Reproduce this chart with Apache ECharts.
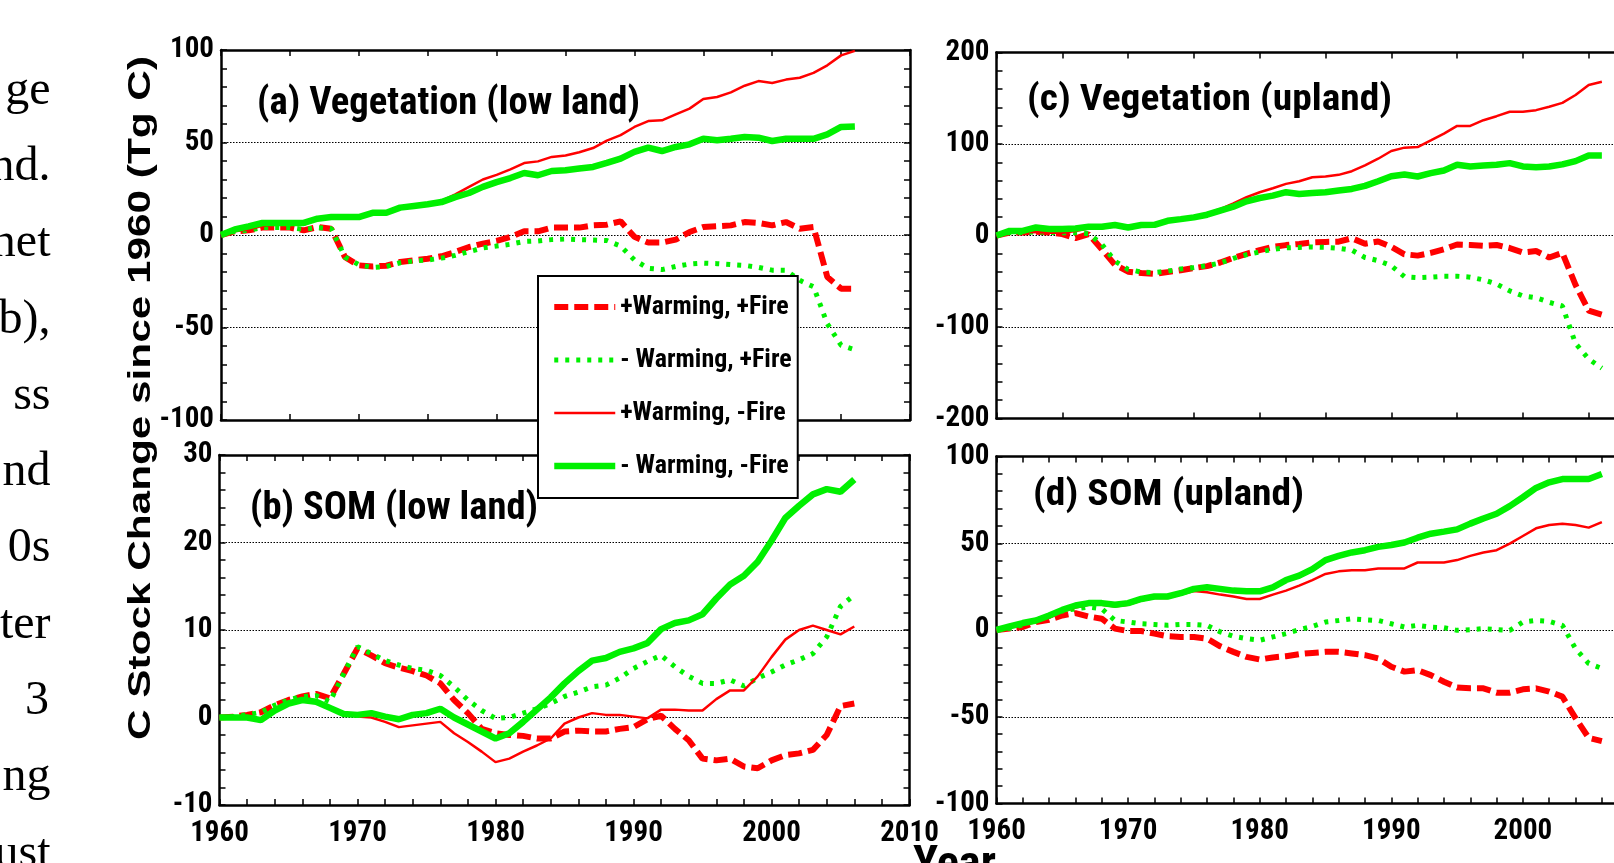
<!DOCTYPE html>
<html>
<head>
<meta charset="utf-8">
<script src="https://cdn.jsdelivr.net/npm/echarts/dist/echarts.min.js"></script>
<style>
html,body{margin:0;padding:0;background:#fff;}
#c{width:1614px;height:863px;}
</style>
</head>
<body>
<div id="c"></div>
<script>
// ---------------- DATA ----------------
const years = [1960,1961,1962,1963,1964,1965,1966,1967,1968,1969,
  1970,1971,1972,1973,1974,1975,1976,1977,1978,1979,
  1980,1981,1982,1983,1984,1985,1986,1987,1988,1989,
  1990,1991,1992,1993,1994,1995,1996,1997,1998,1999,
  2000,2001,2002,2003,2004,2005,2006];

const seriesNames = ['+Warming, +Fire', '- Warming, +Fire', '+Warming, -Fire', '- Warming, -Fire'];

const xTickLabels = [1960, 1970, 1980, 1990, 2000, 2010];
const yTicksA = [-100, -50, 0, 50, 100];
const yTicksB = [-10, 0, 10, 20, 30];
const yTicksC = [-200, -100, 0, 100, 200];
const yTicksD = [-100, -50, 0, 50, 100];

const panelTitles = ['(a) Vegetation (low land)', '(b) SOM (low land)', '(c) Vegetation (upland)', '(d) SOM (upland)'];
const yAxisTitle = 'C Stock Change since 1960 (Tg C)';
const xAxisTitle = 'Year';
const bodyTextLines = ['ge', 'nd.', 'net', 'b),', 'ss', 'nd', '0s', 'ter', '3', 'ng', 'ust'];

// (a) Vegetation lowland
const aWarmFire = [0, 2, 2.5, 4, 4, 4, 2.5, 4.3, 3.4, -12,
  -16.4, -17, -16.6, -14.6, -13.7, -12.8, -11.5, -9.2, -6.5, -4.7,
  -3.2, -1.1, 2, 2, 4, 4, 4, 5.2, 5.6, 7.4,
  -1, -4.1, -4.1, -2.5, 1.6, 4.3, 4.7, 5.2, 7, 6.5,
  5.2, 7, 3.4, 4.3, -22.7, -29, -29];
const aNoWarmFire = [0, 2, 2.5, 4, 4, 4, 3, 4, 3.5, -12,
  -16, -17.5, -17, -15, -14, -13.5, -12.5, -11, -9, -7,
  -6, -5, -3.5, -3.2, -2.5, -2.2, -2.5, -2.7, -3, -6,
  -13.5, -18, -18.7, -17, -15.7, -15.2, -15.5, -16, -16.4, -17.5,
  -19, -19.1, -24.5, -28, -48, -59.6, -62];
const aWarmNoFire = [0, 2, 3, 5, 5.5, 5.5, 5.5, 8.5, 9.5, 9.5,
  9.5, 11.8, 11.8, 14.6, 15.5, 16.8, 18.4, 22, 26, 30,
  32.5, 35.5, 38.9, 39.8, 42.2, 43, 44.7, 47, 51, 54,
  58.4, 61.6, 62, 65.2, 68.3, 73.5, 74.6, 77.1, 80.7, 83.2,
  82.2, 84, 85, 87.6, 91.7, 97.1, 99.5];
const aNoWarmNoFire = [0, 3, 4.7, 6.5, 6.5, 6.5, 6.5, 8.8, 9.7, 9.7,
  9.7, 12, 12, 14.8, 15.7, 16.6, 17.8, 20.5, 22.7, 26,
  28.6, 30.8, 33.5, 32.3, 34.6, 35, 35.9, 36.8, 39, 41.3,
  44.9, 47.2, 45.4, 47.6, 49, 52, 51.2, 52, 53, 52.6,
  50.8, 52, 52, 52, 54.4, 58.4, 58.7];

// (b) SOM lowland
const bWarmFire = [0, 0.1, 0.3, 0.6, 1.4, 2.0, 2.4, 2.7, 2.2, 5.0,
  7.9, 7.1, 6.2, 5.7, 5.3, 4.8, 3.9, 2.0, 0.5, -1.3,
  -1.8, -2.0, -2.1, -2.4, -2.4, -1.6, -1.5, -1.6, -1.6, -1.3,
  -1.1, -0.2, 0.2, -1.3, -2.6, -4.7, -4.9, -4.7, -5.6, -5.8,
  -4.9, -4.3, -4.1, -3.7, -2.0, 1.3, 1.6];
const bNoWarmFire = [0, 0.1, 0.3, 0.6, 1.4, 2.0, 2.4, 2.5, 1.8, 5.0,
  8.1, 7.3, 6.5, 6.0, 5.6, 5.4, 4.8, 3.5, 2.0, 0.8,
  -0.1, 0, 0.5, 1.0, 1.6, 2.4, 2.9, 3.5, 3.7, 4.5,
  5.6, 6.4, 7.1, 5.8, 4.7, 3.9, 3.9, 4.3, 3.6, 4.5,
  5.2, 6.0, 6.6, 7.3, 9.2, 12.7, 14.0];
const bWarmNoFire = [0, 0, 0, -0.3, 0.8, 1.6, 2.0, 1.8, 1.1, 0.4,
  0.1, 0, -0.5, -1.1, -0.9, -0.7, -0.5, -1.8, -2.8, -3.9,
  -5.1, -4.7, -3.9, -3.2, -2.4, -0.7, 0, 0.5, 0.3, 0.3,
  0.1, -0.1, 0.9, 0.9, 0.8, 0.8, 2.1, 3.1, 3.1, 4.7,
  6.9, 8.9, 10, 10.5, 10, 9.5, 10.4];
const bNoWarmNoFire = [0, 0, 0, -0.3, 0.8, 1.6, 2.0, 1.8, 1.1, 0.4,
  0.3, 0.5, 0.1, -0.2, 0.3, 0.5, 1.0, 0, -0.8, -1.6,
  -2.4, -1.8, -0.5, 0.9, 2.3, 3.9, 5.3, 6.5, 6.8, 7.5,
  7.9, 8.5, 10.1, 10.8, 11.1, 11.8, 13.6, 15.2, 16.2, 17.8,
  20.2, 22.8, 24.2, 25.5, 26.1, 25.8, 27.2];

// (c) Vegetation upland
const cWarmFire = [0, 3.3, 3.3, 4, 3.3, 1.5, -3, 1.5, -15, -32,
  -39.5, -41, -42, -40, -38, -35.5, -33.5, -29.5, -24.5, -20,
  -16, -12.5, -10.5, -9.2, -7.5, -7, -6.8, -3, -9, -6.5,
  -12.5, -20.5, -22, -19, -15, -9.8, -10.3, -11.3, -10.4, -13.7,
  -18.5, -17, -24, -19, -54, -82, -86.5];
const cNoWarmFire = [0, 3.3, 3.3, 4, 3.3, 3, 3, 2, -9.5, -28,
  -37, -40, -40.5, -39, -36.5, -35, -33, -30, -25, -21,
  -18, -15, -13.5, -13, -12.5, -13, -14, -16, -24, -27.5,
  -33, -45, -46, -45.5, -44.5, -44.5, -45.5, -48.5, -53, -60.5,
  -66, -68, -73, -77, -118, -135, -145];
const cWarmNoFire = [0, 4, 4, 3.5, 3, 3, 5, 7.5, 8, 10,
  8, 10.5, 11, 15, 17, 19.8, 24.2, 28.9, 35.2, 41.8,
  47.3, 51.6, 56.4, 59.3, 63.7, 64.5, 66.3, 70.3, 76.6, 83.9,
  92.3, 96, 96.7, 104, 111.4, 119.8, 119.8, 126, 130.4, 135.2,
  135.2, 137, 140.7, 145, 153.5, 164.5, 168];
const cNoWarmNoFire = [0, 5, 5, 8.8, 7, 7, 7.7, 9.5, 9.5, 11.4,
  8.8, 11.4, 11.7, 16.1, 17.9, 19.8, 22.7, 27.1, 31.5, 37.4,
  41, 43.6, 47.3, 45.4, 46.5, 47.3, 49.1, 50.9, 54.2, 59.3,
  64.8, 66.7, 64.5, 68.1, 71.1, 77.3, 75.5, 76.6, 77.3, 79.1,
  75.5, 74.7, 75.5, 77.7, 81.3, 87.5, 87.5];

// (d) SOM upland
const dWarmFire = [0, 0.8, 1.7, 4.6, 5.9, 8.4, 9.7, 7.8, 6.5, 0.8,
  -0.6, -0.6, -2.1, -3.6, -4, -4, -5, -9.4, -12.6, -15.5,
  -17, -15.8, -15.1, -13.9, -13.2, -12.6, -12.6, -13.5, -14.5, -16.4,
  -21.2, -24, -23.1, -26, -29.8, -33.2, -33.6, -33.6, -36.1, -36.1,
  -34.2, -33.6, -35.5, -38.4, -50.8, -62.2, -64.1];
const dNoWarmFire = [0, 1, 3, 6, 8, 11, 12.2, 13.2, 12.2, 5.5,
  4.6, 3.6, 3.2, 2.7, 3.2, 3.2, 2.7, -1.1, -3.6, -5,
  -5.9, -4, -2.1, 0.2, 2.1, 4.6, 5.5, 6.5, 5.9, 5.5,
  3.6, 1.7, 2.7, 1.7, 1.3, -0.2, 0.2, 0.8, 0.2, -0.2,
  4.6, 5.5, 5, 2.7, -10.7, -19.3, -22.1];
const dWarmNoFire = [0, 1.5, 3, 4.5, 7, 10.5, 13, 14.5, 14.5, 13.5,
  14.5, 17, 18.5, 18.5, 20.5, 22.5, 21.8, 20.4, 19.3, 17.9,
  17.9, 20.4, 22.7, 25.6, 28.8, 32.3, 33.8, 34.5, 34.5, 35.5,
  35.5, 35.5, 38.9, 38.9, 38.9, 40.3, 42.7, 44.7, 46, 49.8,
  54.2, 58.6, 60.5, 61.3, 60.5, 59, 62.2];
const dNoWarmNoFire = [0, 2.1, 4, 5.5, 8.4, 11.6, 14.1, 15.5, 15.5, 14.5,
  15.5, 17.9, 19.3, 19.3, 21.2, 23.7, 24.6, 23.7, 22.7, 22.3,
  22.3, 24.6, 28.8, 31.3, 35.1, 40.3, 42.7, 44.7, 46, 47.9,
  49, 50.4, 53.2, 55.5, 56.7, 58, 61.3, 64.3, 67, 71.4,
  76.5, 81.9, 85.1, 87, 87, 87, 89.9];

// ---------------- STYLE / LAYOUT ----------------
const COND = '"Roboto Condensed","Open Sans Condensed","DejaVu Sans Condensed",sans-serif';
const RED = '#ff0000';
const GREEN = '#00f000';
const seriesStyles = [
  {color: RED,   width: 6,   type: [14, 6]},
  {color: GREEN, width: 5,   type: [4, 7]},
  {color: RED,   width: 2.5, type: 'solid'},
  {color: GREEN, width: 6.5, type: 'solid'}
];

const panels = [
  {grid: {left: 221,   top: 50,    width: 689, height: 370}, yTicks: yTicksA, xInterval: 5,  xLabels: false, xMinor: 0,
   values: [aWarmFire, aNoWarmFire, aWarmNoFire, aNoWarmNoFire],
   title: {x: 257, y: 104.5, size: 39, w: 383}},
  {grid: {left: 219.5, top: 455,   width: 690, height: 350}, yTicks: yTicksB, xInterval: 10, xLabels: true,  xMinor: 5,
   values: [bWarmFire, bNoWarmFire, bWarmNoFire, bNoWarmNoFire],
   title: {x: 250, y: 509.5, size: 39, w: 288}},
  {grid: {left: 996.5, top: 52.5,  width: 658, height: 366}, yTicks: yTicksC, xInterval: 5,  xLabels: false, xMinor: 0,
   values: [cWarmFire, cNoWarmFire, cWarmNoFire, cNoWarmNoFire],
   title: {x: 1027, y: 101, size: 36, w: 365}},
  {grid: {left: 996.5, top: 456.5, width: 658, height: 347}, yTicks: yTicksD, xInterval: 10, xLabels: true,  xMinor: 5,
   values: [dWarmFire, dNoWarmFire, dWarmNoFire, dNoWarmNoFire],
   title: {x: 1033, y: 495.5, size: 37, w: 271}}
];

const measureCtx = document.createElement('canvas').getContext('2d');
function fitScale(text, font, target) {
  measureCtx.font = font;
  const w = measureCtx.measureText(text).width;
  return w > 0 ? target / w : 1;
}

const axisLineStyle = {color: '#000', width: 2.5};
const tickStyle = {color: '#000', width: 1.5};
const LABEL_SIZE = 29;

function xAxis(gi, p, pos) {
  const showLabel = pos === 'bottom' && p.xLabels;
  return {
    type: 'value', gridIndex: gi, position: pos,
    min: xTickLabels[0], max: xTickLabels[xTickLabels.length - 1], interval: p.xInterval,
    axisLine: {show: true, onZero: false, lineStyle: axisLineStyle},
    axisTick: {show: true, inside: true, length: 6, lineStyle: tickStyle},
    minorTick: {show: p.xMinor > 0, splitNumber: p.xMinor || 5, length: 6, lineStyle: tickStyle},
    axisLabel: {show: showLabel, margin: 14, color: '#000', fontFamily: COND, fontWeight: 'bold', fontSize: LABEL_SIZE,
                formatter: v => String(v)},
    splitLine: {show: false}, minorSplitLine: {show: false}
  };
}
function yAxis(gi, p, pos) {
  const t = p.yTicks;
  return {
    type: 'value', gridIndex: gi, position: pos,
    min: t[0], max: t[t.length - 1], interval: t[1] - t[0],
    axisLine: {show: true, onZero: false, lineStyle: axisLineStyle},
    axisTick: {show: true, inside: true, length: 6, lineStyle: tickStyle},
    minorTick: {show: true, splitNumber: 5, length: 6, lineStyle: tickStyle},
    axisLabel: {show: pos === 'left', margin: 7, color: '#000', fontFamily: COND, fontWeight: 'bold', fontSize: LABEL_SIZE,
                formatter: v => String(v)},
    splitLine: {show: pos === 'left', lineStyle: {color: '#000', width: 1.2, type: [1.5, 1.5]}},
    minorSplitLine: {show: false}
  };
}

const grids = [], xAxes = [], yAxes = [], series = [];
panels.forEach((p, gi) => {
  grids.push(Object.assign({outerBoundsMode: 'none', containLabel: false}, p.grid));
  xAxes.push(xAxis(gi, p, 'bottom'));
  xAxes.push(xAxis(gi, p, 'top'));
  yAxes.push(yAxis(gi, p, 'left'));
  yAxes.push(yAxis(gi, p, 'right'));
  p.values.forEach((vals, si) => {
    const st = seriesStyles[si];
    series.push({
      type: 'line', name: seriesNames[si],
      xAxisIndex: 2 * gi, yAxisIndex: 2 * gi,
      data: years.map((yr, i) => [yr, vals[i]]),
      symbol: 'none', showSymbol: false, silent: true,
      color: st.color,
      itemStyle: {color: st.color},
      lineStyle: {color: st.color, width: st.width, type: st.type},
      z: 2, animation: false
    });
  });
});

// text graphics
const graphics = [];
const BODY_FONT = '48px "Liberation Serif","Times New Roman",serif';
bodyTextLines.forEach((t, k) => {
  graphics.push({
    type: 'text', x: t === '3' ? 49 : 50.5, y: 91 + 76.3 * k, z: 10, silent: true,
    style: {text: t, font: BODY_FONT, fill: '#000',
            textAlign: 'right', align: 'right', textVerticalAlign: 'middle', verticalAlign: 'middle'}
  });
});
const YT_FONT = 'bold 32px "Liberation Sans",Arial,sans-serif';
graphics.push({
  type: 'text', x: 141, y: 398, rotation: Math.PI / 2, scaleX: fitScale(yAxisTitle, YT_FONT, 684), scaleY: 1, z: 10, silent: true,
  style: {text: yAxisTitle, font: YT_FONT, fill: '#000',
          textAlign: 'center', align: 'center', textVerticalAlign: 'middle', verticalAlign: 'middle'}
});
panels.forEach((p, gi) => {
  const f = 'bold ' + p.title.size + 'px ' + COND;
  graphics.push({
    type: 'text', x: p.title.x, y: p.title.y, scaleX: fitScale(panelTitles[gi], f, p.title.w), scaleY: 1, z: 10, silent: true,
    style: {text: panelTitles[gi], font: f, fill: '#000',
            textAlign: 'left', align: 'left', textVerticalAlign: 'middle', verticalAlign: 'middle'}
  });
});
const YEAR_FONT = 'bold 44px ' + COND;
graphics.push({
  type: 'text', x: 913, y: 866, scaleX: fitScale(xAxisTitle, YEAR_FONT, 83), scaleY: 1, z: 10, silent: true,
  style: {text: xAxisTitle, font: YEAR_FONT, fill: '#000',
          textAlign: 'left', align: 'left', textVerticalAlign: 'middle', verticalAlign: 'middle'}
});

const option = {
  backgroundColor: '#fff',
  animation: false,
  grid: grids,
  xAxis: xAxes,
  yAxis: yAxes,
  series: series,
  legend: {
    show: true, orient: 'vertical', left: 538, top: 276,
    padding: [16, 6, 17, 13], itemGap: 23, itemWidth: 61, itemHeight: 10,
    backgroundColor: '#fff', borderColor: '#000', borderWidth: 2, borderRadius: 0,
    selectedMode: false, z: 20,
    textStyle: {color: '#000', fontFamily: COND, fontWeight: 'bold', fontSize: 26, lineHeight: 30},
    lineStyle: {width: 'inherit'},
    itemStyle: {opacity: 0, color: 'rgba(0,0,0,0)', borderWidth: 0},
    data: seriesNames
  },
  graphic: {elements: graphics}
};

const chart = echarts.init(document.getElementById('c'), null, {renderer: 'canvas', width: 1614, height: 863});
chart.setOption(option);
</script>
</body>
</html>
